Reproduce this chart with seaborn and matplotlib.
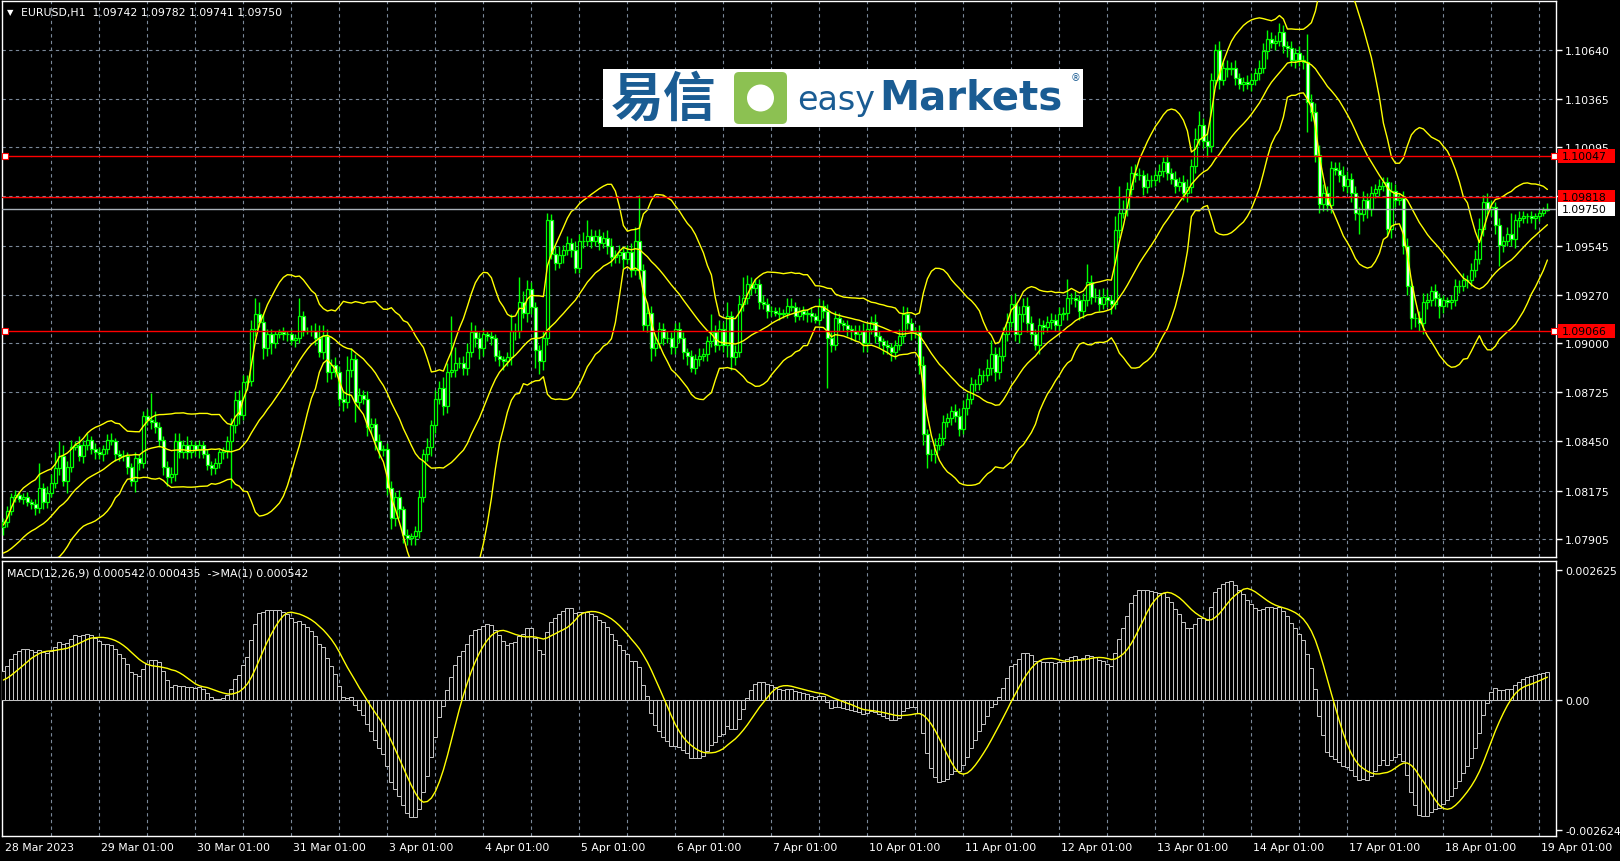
import matplotlib
matplotlib.use("Agg")
import matplotlib.pyplot as plt
import matplotlib.patches as mpatches
import matplotlib.transforms as mtransforms
import seaborn as sns
import numpy as np
import pandas as pd

# EURUSD H1 closes, 28 Mar 01:00 .. 19 Apr 03:00, one line per trading day
closes = [
    1.0800, 1.0806, 1.0814, 1.0815, 1.0813, 1.0814, 1.0811, 1.0810, 1.0808, 1.0819, 1.0811, 1.0816,
    1.0822, 1.0830, 1.0837, 1.0823, 1.0831, 1.0842, 1.0843, 1.0837, 1.0843, 1.0846, 1.0841, 1.0839,
    1.0838, 1.0841, 1.0846, 1.0845, 1.0838, 1.0837, 1.0837, 1.0831, 1.0823, 1.0836, 1.0833, 1.0859,
    1.0857, 1.0856, 1.0853, 1.0846, 1.0831, 1.0825, 1.0827, 1.0845, 1.0839, 1.0843, 1.0839, 1.0843,
    1.0840, 1.0843, 1.0838, 1.0832, 1.0830, 1.0833, 1.0839, 1.0840, 1.0845, 1.0854, 1.0868, 1.0860,
    1.0878, 1.0879, 1.0908, 1.0916, 1.0912, 1.0897, 1.0905, 1.0900, 1.0905, 1.0906, 1.0905, 1.0905,
    1.0902, 1.0903, 1.0915, 1.0907, 1.0907, 1.0907, 1.0903, 1.0895, 1.0904, 1.0884, 1.0888, 1.0884,
    1.0869, 1.0867, 1.0885, 1.0891, 1.0867, 1.0871, 1.0869, 1.0853, 1.0855, 1.0845, 1.0840, 1.0841,
    1.0819, 1.0802, 1.0814, 1.0807, 1.0793, 1.0791, 1.0792, 1.0795, 1.0814, 1.0838, 1.0842, 1.0854,
    1.0869, 1.0875, 1.0865, 1.0884, 1.0885, 1.0889, 1.0889, 1.0886, 1.0895, 1.0906, 1.0903, 1.0897,
    1.0905, 1.0904, 1.0903, 1.0893, 1.0891, 1.0890, 1.0892, 1.0907, 1.0907, 1.0923, 1.0917, 1.0930,
    1.0920, 1.0896, 1.0890, 1.0903, 1.0969, 1.0950, 1.0945, 1.0949, 1.0952, 1.0956, 1.0952, 1.0942,
    1.0957, 1.0957, 1.0960, 1.0957, 1.0960, 1.0956, 1.0959, 1.0954, 1.0948, 1.0949, 1.0951, 1.0947,
    1.0951, 1.0941, 1.0957, 1.0941, 1.0910, 1.0917, 1.0897, 1.0900, 1.0908, 1.0903, 1.0903, 1.0898,
    1.0908, 1.0903, 1.0895, 1.0893, 1.0886, 1.0891, 1.0893, 1.0894, 1.0901, 1.0906, 1.0899, 1.0908,
    1.0899, 1.0915, 1.0892, 1.0895, 1.0922, 1.0925, 1.0933, 1.0931, 1.0933, 1.0923, 1.0922, 1.0918,
    1.0918, 1.0917, 1.0916, 1.0917, 1.0921, 1.0920, 1.0915, 1.0918, 1.0916, 1.0917, 1.0915, 1.0913,
    1.0921, 1.0918, 1.0903, 1.0899, 1.0914, 1.0911, 1.0910, 1.0908, 1.0907, 1.0905, 1.0907, 1.0900,
    1.0908, 1.0912, 1.0904, 1.0901, 1.0899, 1.0898, 1.0895, 1.0899, 1.0904, 1.0916, 1.0911, 1.0906,
    1.0906, 1.0888, 1.0849, 1.0838, 1.0838, 1.0843, 1.0847, 1.0856, 1.0858, 1.0862, 1.0859, 1.0852,
    1.0864, 1.0869, 1.0877, 1.0877, 1.0882, 1.0882, 1.0886, 1.0894, 1.0884, 1.0893, 1.0905, 1.0912,
    1.0922, 1.0905, 1.0916, 1.0921, 1.0911, 1.0905, 1.0899, 1.0910, 1.0909, 1.0912, 1.0913, 1.0910,
    1.0916, 1.0917, 1.0925, 1.0925, 1.0924, 1.0918, 1.0924, 1.0934, 1.0926, 1.0926, 1.0922, 1.0926,
    1.0924, 1.0922, 1.0963, 1.0973, 1.0975, 1.0986, 1.0995, 1.0994, 1.0994, 1.0987, 1.0991, 1.0991,
    1.0994, 1.0996, 1.1001, 1.0995, 1.0992, 1.0988, 1.0990, 1.0984, 1.0987, 1.0999, 1.1014, 1.1022,
    1.1013, 1.1010, 1.1047, 1.1064, 1.1047, 1.1054, 1.1053, 1.1054, 1.1048, 1.1045, 1.1046, 1.1045,
    1.1047, 1.1051, 1.1054, 1.1063, 1.1070, 1.1068, 1.1069, 1.1074, 1.1066, 1.1065, 1.1058, 1.1062,
    1.1058, 1.1057, 1.1035, 1.1029, 1.1005, 1.0978, 1.0984, 1.0977, 1.0998, 1.0997, 1.0994, 1.0988,
    1.0992, 1.0984, 1.0973, 1.0972, 1.0980, 1.0975, 1.0984, 1.0986, 1.0988, 1.0990, 1.0964, 1.0985,
    1.0980, 1.0981, 1.0954, 1.0932, 1.0914, 1.0914, 1.0911, 1.0923, 1.0924, 1.0929, 1.0925, 1.0921,
    1.0924, 1.0923, 1.0924, 1.0932, 1.0932, 1.0935, 1.0935, 1.0941, 1.0947, 1.0964, 1.0979, 1.0975,
    1.0976, 1.0966, 1.0955, 1.0957, 1.0961, 1.0958, 1.0969, 1.0970, 1.0971, 1.0971, 1.0970, 1.0971,
    1.0973, 1.09742, 1.09750,
]

# wick lengths above / below the candle body, in pips
upper_wick = [
    2, 3, 2, 3, 2, 2, 3, 2, 3, 14, 3, 4, 5, 9, 8, 6, 3, 4, 2, 5, 3, 4, 2, 3,
    3, 2, 3, 4, 2, 2, 3, 2, 2, 3, 2, 3, 4, 15, 6, 3, 2, 3, 4, 5, 5, 3, 5, 3,
    2, 3, 2, 3, 2, 3, 2, 2, 3, 4, 5, 6, 4, 3, 5, 9, 7, 4, 3, 3, 2, 2, 3, 2,
    3, 2, 10, 3, 2, 3, 4, 7, 6, 4, 3, 4, 3, 4, 8, 6, 3, 4, 3, 4, 3, 3, 4, 2,
    3, 4, 3, 4, 2, 3, 2, 3, 4, 3, 5, 3, 5, 4, 6, 5, 30, 9, 3, 4, 5, 6, 4, 3,
    3, 2, 3, 2, 3, 2, 3, 9, 4, 14, 6, 5, 4, 3, 3, 4, 4, 3, 4, 5, 3, 4, 3, 5,
    4, 5, 9, 4, 3, 4, 3, 4, 5, 3, 4, 3, 4, 5, 8, 26, 3, 6, 4, 5, 4, 3, 4, 3,
    3, 4, 3, 2, 3, 3, 4, 3, 3, 10, 4, 5, 4, 8, 3, 4, 5, 12, 5, 4, 3, 3, 4, 3,
    3, 2, 3, 2, 4, 4, 3, 2, 3, 2, 3, 2, 4, 3, 4, 3, 4, 3, 2, 3, 2, 3, 3, 4,
    3, 3, 4, 3, 2, 3, 2, 3, 4, 5, 4, 3, 3, 4, 5, 3, 3, 4, 3, 4, 3, 3, 4, 5,
    4, 3, 4, 3, 4, 3, 5, 8, 4, 5, 4, 5, 5, 6, 5, 4, 5, 4, 3, 4, 3, 3, 4, 3,
    4, 3, 11, 3, 4, 3, 4, 10, 4, 5, 4, 5, 4, 3, 8, 15, 5, 4, 4, 5, 4, 3, 4, 3,
    3, 4, 3, 4, 3, 4, 3, 4, 5, 4, 6, 8, 4, 5, 4, 3, 5, 3, 4, 3, 4, 3, 3, 4,
    4, 3, 4, 5, 5, 4, 3, 5, 4, 3, 4, 3, 4, 3, 16, 4, 5, 6, 5, 4, 4, 3, 4, 5,
    4, 3, 4, 3, 5, 4, 4, 3, 4, 3, 3, 5, 4, 3, 4, 5, 4, 3, 4, 5, 4, 3, 4, 3,
    3, 2, 3, 4, 3, 4, 3, 4, 5, 6, 4, 5, 4, 3, 4, 3, 4, 12, 3, 4, 3, 2, 3, 2,
    2, 2, 3.2,
]
lower_wick = [
    4, 3, 2, 3, 2, 3, 2, 3, 4, 3, 4, 3, 2, 3, 4, 3, 7, 3, 2, 3, 4, 3, 3, 4,
    3, 4, 3, 2, 4, 3, 3, 4, 3, 6, 4, 3, 3, 4, 3, 4, 5, 5, 3, 4, 3, 3, 4, 3,
    3, 4, 2, 3, 4, 3, 3, 4, 4, 26, 4, 5, 3, 4, 3, 4, 3, 6, 4, 6, 3, 2, 3, 4,
    3, 4, 3, 3, 2, 3, 4, 3, 4, 6, 4, 3, 4, 5, 3, 4, 11, 4, 3, 5, 4, 5, 4, 3,
    4, 6, 4, 5, 5, 4, 4, 5, 4, 3, 4, 5, 4, 3, 5, 4, 3, 4, 3, 4, 4, 3, 5, 6,
    4, 3, 4, 3, 4, 5, 3, 4, 5, 4, 3, 5, 4, 10, 7, 5, 4, 3, 4, 3, 4, 3, 4, 3,
    3, 4, 3, 4, 3, 4, 3, 4, 5, 3, 4, 5, 3, 4, 3, 5, 3, 4, 7, 4, 3, 4, 3, 4,
    4, 3, 4, 5, 2, 3, 4, 3, 4, 3, 4, 3, 4, 7, 7, 4, 3, 4, 3, 4, 3, 4, 3, 4,
    3, 2, 3, 2, 3, 2, 3, 2, 3, 4, 3, 2, 3, 4, 28, 4, 3, 4, 3, 4, 5, 4, 3, 5,
    5, 3, 4, 3, 5, 4, 5, 4, 3, 4, 3, 4, 3, 5, 6, 8, 4, 5, 3, 4, 3, 4, 3, 4,
    3, 4, 3, 4, 3, 4, 3, 4, 5, 4, 3, 4, 3, 4, 5, 4, 5, 4, 3, 5, 4, 3, 4, 3,
    4, 3, 4, 3, 4, 5, 4, 3, 4, 3, 4, 3, 4, 6, 3, 4, 3, 4, 3, 4, 3, 4, 3, 4,
    3, 4, 3, 4, 3, 4, 3, 4, 5, 3, 4, 3, 4, 6, 3, 4, 5, 3, 4, 3, 4, 3, 4, 3,
    4, 3, 4, 3, 4, 3, 4, 3, 4, 5, 3, 4, 3, 4, 17, 5, 4, 5, 4, 3, 4, 3, 4, 3,
    4, 5, 4, 11, 4, 5, 4, 3, 4, 3, 4, 5, 4, 3, 4, 5, 6, 5, 4, 6, 4, 3, 4, 7,
    4, 3, 4, 3, 4, 3, 4, 3, 4, 3, 4, 3, 4, 5, 12, 4, 3, 4, 5, 4, 3, 4, 3, 6,
    3, 2, 0.1,
]

# closes before the first visible bar, only used to warm up the indicators
warmup_closes = [
    1.0735, 1.0741, 1.0738, 1.0744, 1.0750, 1.0747, 1.0753, 1.0758, 1.0752, 1.0749, 1.0755, 1.0761,
    1.0758, 1.0754, 1.0760, 1.0766, 1.0763, 1.0758, 1.0762, 1.0768, 1.0772, 1.0767, 1.0763, 1.0769,
    1.0774, 1.0771, 1.0776, 1.0780, 1.0775, 1.0770, 1.0766, 1.0772, 1.0778, 1.0783, 1.0779, 1.0774,
    1.0770, 1.0765, 1.0769, 1.0775, 1.0781, 1.0786, 1.0782, 1.0777, 1.0773, 1.0768, 1.0772, 1.0779,
    1.0784, 1.0788, 1.0783, 1.0778, 1.0774, 1.0780, 1.0785, 1.0789, 1.0786, 1.0782, 1.0790, 1.0797,
]

day_labels = ["28 Mar 2023", "29 Mar 01:00", "30 Mar 01:00", "31 Mar 01:00", "3 Apr 01:00",
              "4 Apr 01:00", "5 Apr 01:00", "6 Apr 01:00", "7 Apr 01:00", "10 Apr 01:00",
              "11 Apr 01:00", "12 Apr 01:00", "13 Apr 01:00", "14 Apr 01:00", "17 Apr 01:00",
              "18 Apr 01:00", "19 Apr 01:00"]
price_ticks = ["1.10640", "1.10365", "1.10095", "1.09820", "1.09545", "1.09270",
               "1.09000", "1.08725", "1.08450", "1.08175", "1.07905"]
macd_ticks = ["0.002625", "0.00", "-0.002624"]
red_levels = [1.10047, 1.09818, 1.09066]
marked_levels = [1.10047, 1.09066]
bid = 1.09750

W, H = 1620, 862
LIME, YEL, GRID = "#00ff00", "#ffff00", "#7a8899"

sns.set_theme(style="dark", rc={"axes.facecolor": "black", "figure.facecolor": "black"})
plt.rcParams["font.family"] = ["DejaVu Sans", "Noto Sans CJK SC"]

# ---- data prep
n = len(closes)
idx = np.arange(n)
c = np.array(closes)
o = np.r_[warmup_closes[-1], c[:-1]]
hi = np.maximum(o, c) + np.array(upper_wick) * 1e-4
lo = np.minimum(o, c) - np.array(lower_wick) * 1e-4

full = pd.Series(warmup_closes + closes)
k = len(warmup_closes)
mid = full.rolling(20).mean()
sd = full.rolling(20).std(ddof=0)
bb_up = (mid + 2 * sd).values[k:]
bb_lo = (mid - 2 * sd).values[k:]
bb_mid = mid.values[k:]
macd = (full.ewm(span=12, adjust=False).mean() - full.ewm(span=26, adjust=False).mean())
signal = macd.rolling(9).mean().values[k:]
macd = macd.values[k:]

# ---- figure
fig = plt.figure(figsize=(W / 100, H / 100), dpi=100, facecolor="black")
ax = fig.add_axes([2 / W, 1 - 558 / H, 1554 / W, 556 / H])
ax2 = fig.add_axes([2 / W, 1 - 837 / H, 1554 / W, 275 / H])

for a in (ax, ax2):
    a.set_facecolor("black")
    a.grid(False)
    a.set_xlim(-0.35, 388.15)
    for s in a.spines.values():
        s.set_color("white")
        s.set_linewidth(1)
    for g in range(12, n, 12):
        a.axvline(g, color=GRID, ls=(0, (3, 3)), lw=0.8, zorder=1)

ax.set_ylim(1.078044, 1.109122)
ax2.set_ylim(-0.002751, 0.002801)

for p in price_ticks:
    ax.axhline(float(p), color=GRID, ls=(0, (3, 3)), lw=0.8, zorder=1)
ax2.axhline(0, color=GRID, ls=(0, (3, 3)), lw=0.8, zorder=1)

# candles
ax.vlines(idx, lo, hi, color=LIME, lw=1, zorder=3)
fills = np.where(c < o, "white", "black")
ax.bar(idx, np.maximum(np.abs(c - o), 1e-6), bottom=np.minimum(o, c), width=0.62,
       color=fills, edgecolor=LIME, linewidth=0.9, zorder=4)

# bollinger bands
for band in (bb_up, bb_mid, bb_lo):
    sns.lineplot(x=idx, y=band, ax=ax, color=YEL, linewidth=1, zorder=5)

# level lines
ytr = ax.get_yaxis_transform()
for lv in red_levels:
    ax.axhline(lv, color="#ff0000", lw=1, zorder=6)
ax.axhline(bid, color="#a8b0b8", lw=1, zorder=6)
for lv in marked_levels:
    ax.plot([3.4 / 1554, 1551.5 / 1554], [lv, lv], transform=ytr, ls="none", marker="s",
            ms=4, mfc="white", mec="#ff0000", mew=0.8, zorder=7, clip_on=False)

# right price axis
ax.yaxis.tick_right()
ax.set_yticks([float(p) for p in price_ticks])
ax.set_yticklabels(price_ticks)
ax.set_xticks([])
for a in (ax, ax2):
    a.tick_params(axis="y", colors="white", labelcolor="white", labelsize=7.8,
                  length=4, width=1, direction="out", pad=2.5)

box_w = 57 / 1554
for lv, fc in [(1.10047, "#ff0000"), (1.09818, "#ff0000"), (1.09066, "#ff0000"), (bid, "white")]:
    ax.add_patch(mpatches.Rectangle((1 + 1.5 / 1554, lv - 7 / 17890), box_w, 14 / 17890,
                                    transform=ytr, fc=fc, ec="none", clip_on=False, zorder=8))
    ax.text(1 + 6 / 1554, lv, f"{lv:.5f}", transform=ytr, color="black", fontsize=7.8,
            va="center", ha="left", clip_on=False, zorder=9)

# macd
ax2.bar(idx, macd, width=1.0, color="black", edgecolor="#c8c8c8", linewidth=0.7, zorder=3)
sns.lineplot(x=idx, y=signal, ax=ax2, color=YEL, linewidth=1, zorder=5)
ax2.yaxis.tick_right()
ax2.set_yticks([float(t) for t in macd_ticks])
ax2.set_yticklabels(macd_ticks)
ax2.set_xticks(idx[::24])
ax2.set_xticklabels([])
ax2.tick_params(axis="x", colors="white", length=5, width=1, direction="out")
xtr = ax2.get_xaxis_transform()
for i, lab in zip(idx[::24], day_labels):
    ax2.annotate(lab, xy=(i, 0), xycoords=xtr, xytext=(2, -6), textcoords="offset pixels",
                 ha="left", va="top", color="white", fontsize=7.8, annotation_clip=False)

# titles
fig.text(7 / W, 1 - 13 / H, "\u25bc", color="white", fontsize=6, va="center", ha="left")
fig.text(21 / W, 1 - 13 / H, "EURUSD,H1  1.09742 1.09782 1.09741 1.09750", color="white",
         fontsize=7.8, va="center", ha="left")
fig.text(7 / W, 1 - 573 / H, "MACD(12,26,9) 0.000542 0.000435  ->MA(1) 0.000542",
         color="white", fontsize=7.8, va="center", ha="left")

# logo
px = mtransforms.IdentityTransform()
BLUE = "#1a5c93"
fig.add_artist(mpatches.Rectangle((603, H - 128), 480, 58, transform=px, fc="white",
                                  ec="none", zorder=10))
fig.add_artist(mpatches.FancyBboxPatch((734, H - 125), 53, 52, transform=px,
                                       boxstyle="round,pad=0,rounding_size=5",
                                       fc="#8cc152", ec="none", zorder=11))
fig.add_artist(mpatches.Circle((760.5, H - 99), 13.5, transform=px, fc="white", ec="none",
                               zorder=12))
fig.text(664 / W, 1 - 100 / H, "易信", family=["Noto Sans CJK SC"], weight="bold",
         fontsize=38, color=BLUE, ha="center", va="center", zorder=12)
fig.text(797 / W, 1 - 110 / H, "easy", family=["DejaVu Sans"], weight="normal",
         fontsize=24, color=BLUE, ha="left", va="baseline", zorder=12)
fig.text(879 / W, 1 - 110 / H, "Markets", family=["DejaVu Sans"], weight="bold",
         fontsize=29, color=BLUE, ha="left", va="baseline", zorder=12)
fig.text(1071 / W, 1 - 78 / H, "\u00ae", color=BLUE, fontsize=7, ha="left", va="center",
         zorder=12)

fig.savefig("out.png", dpi=100, facecolor="black")
